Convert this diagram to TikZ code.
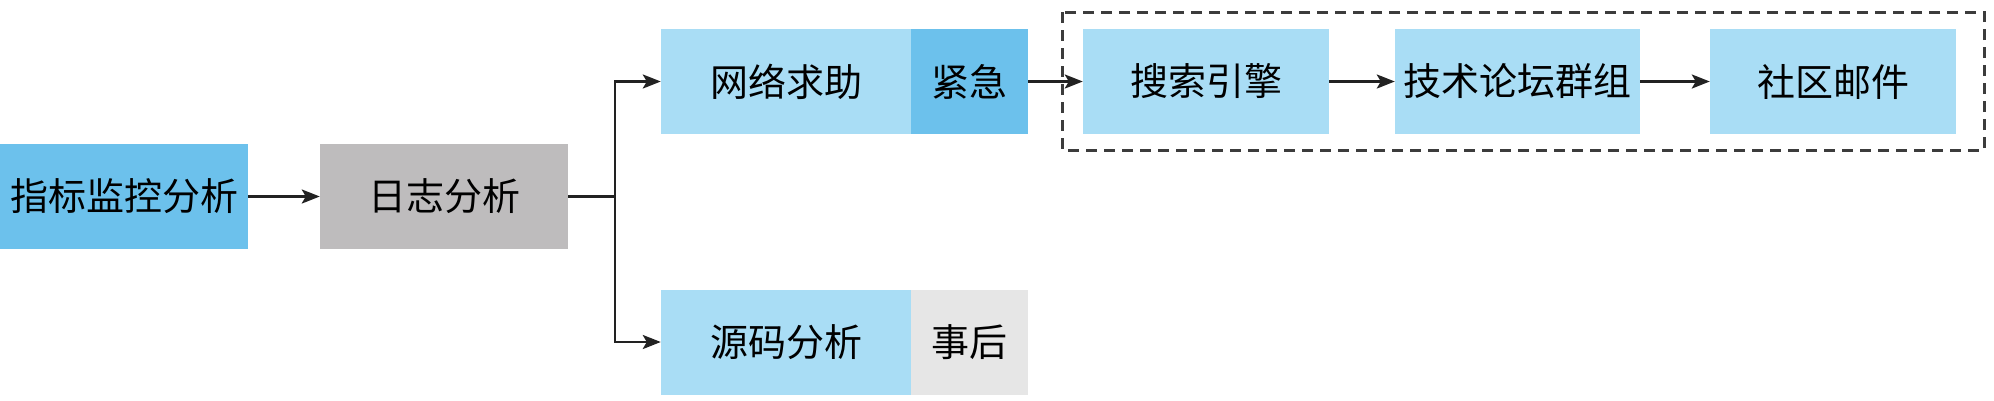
\documentclass[tikz,border=0pt]{standalone}
\usepackage{fontspec}
\newfontfamily\cjk{Noto Sans CJK SC}
\usetikzlibrary{arrows.meta}
\definecolor{midblue}{HTML}{6CC1EC}
\definecolor{lightblue}{HTML}{A9DDF5}
\definecolor{boxgray}{HTML}{BEBCBD}
\definecolor{lightgray}{HTML}{E6E6E6}
\definecolor{linegray}{HTML}{222222}
\definecolor{dashgray}{HTML}{3C3C3C}
\tikzset{
  box/.style={draw=none, inner sep=0pt, minimum height=105pt, text=black,
    font=\cjk\fontsize{38}{38}\selectfont},
  conn/.style={line width=2.8pt, draw=linegray, -{Stealth[length=18pt,width=14pt,inset=4pt]}},
  plain/.style={line width=2.8pt, draw=linegray},
  group/.style={draw=dashgray, line width=3pt, dash pattern=on 11pt off 7pt}
}
\begin{document}
\begin{tikzpicture}[x=1pt,y=-1pt]
\useasboundingbox (0,0) rectangle (1994,400);
\node[box, fill=midblue, minimum width=248pt] (b1) at (124,196.5) {指标监控分析};
\node[box, fill=boxgray, minimum width=248pt] (b2) at (444,196.5) {日志分析};
\node[box, fill=lightblue, minimum width=250pt] (net) at (786,81.5) {网络求助};
\node[box, fill=midblue, minimum width=117pt] (urg) at (969.5,81.5) {紧急};
\node[box, fill=lightblue, minimum width=250pt] (src) at (786,342) {源码分析};
\node[box, fill=lightgray, minimum width=117pt] (aft) at (969.5,342) {事后};
\node[box, fill=lightblue, minimum width=246pt] (s1) at (1206,81.5) {搜索引擎};
\node[box, fill=lightblue, minimum width=245pt] (s2) at (1517.5,81.5) {技术论坛群组};
\node[box, fill=lightblue, minimum width=246pt] (s3) at (1833,81.5) {社区邮件};
\draw[group] (1062,12) rectangle (1984,150);
\coordinate (split) at (615,196.5);
\draw[conn] (b1) -- (b2);
\draw[plain] (b2.east) -- (split);
\draw[conn] (split) |- (net.west);
\draw[conn] (split) |- (src.west);
\draw[conn] (urg.east) -- (s1.west);
\draw[conn] (s1) -- (s2);
\draw[conn] (s2) -- (s3);
\end{tikzpicture}
\end{document}
